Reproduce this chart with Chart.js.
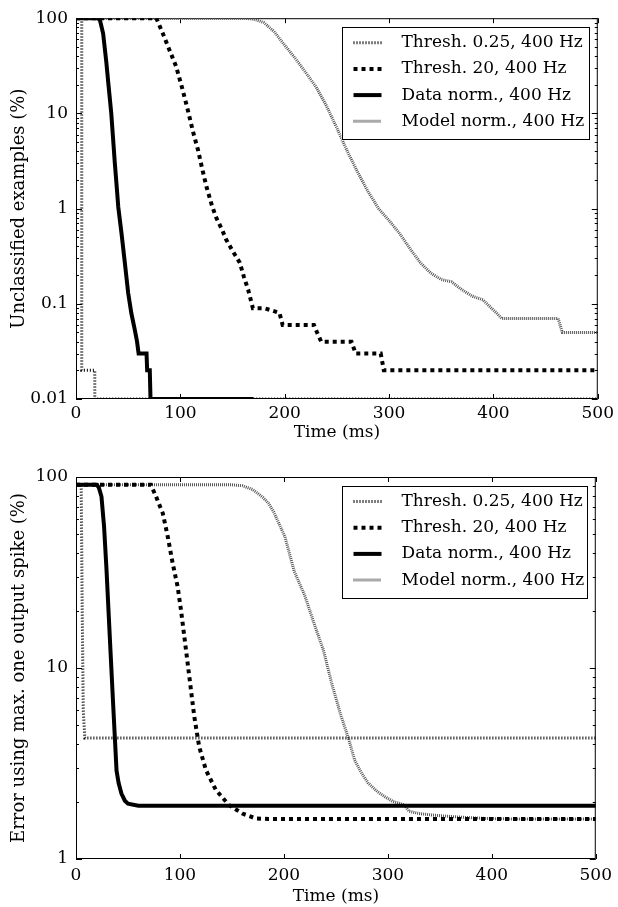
<!DOCTYPE html>
<html><head><meta charset="utf-8">
<script src="https://cdn.jsdelivr.net/npm/chart.js@4.4.1/dist/chart.umd.min.js"></script>
<style>
html,body{margin:0;padding:0;background:#fff;width:618px;height:907px;overflow:hidden}
.box{position:absolute;left:0;width:618px}
canvas{display:block}
</style></head><body>
<div class="box" style="top:0;height:450px"><canvas id="c1" width="618" height="450"></canvas></div>
<div class="box" style="top:455px;height:452px"><canvas id="c2" width="618" height="452"></canvas></div>
<script>
// ---------- data ----------
const seriesLabels = ['Thresh. 0.25, 400 Hz', 'Thresh. 20, 400 Hz', 'Data norm., 400 Hz', 'Model norm., 400 Hz'];
const xTicks = [0, 100, 200, 300, 400, 500];
const xTickLabels = ['0', '100', '200', '300', '400', '500'];

// Top panel: unclassified examples (%)
const topYTicks = [0.01, 0.1, 1, 10, 100];
const topYTickLabels = ['0.01', '0.1', '1', '10', '100'];
const topTh025T = [0, 5.5, 5.5, 18, 18, 500];
const topTh025V = [100, 100, 0.02, 0.02, 0.01, 0.01];
const topTh20T = [0, 77, 83, 90, 96, 102, 107, 112, 117, 121, 125, 130, 134, 140, 144, 150, 157, 161, 165, 169.5, 180, 188, 195, 198, 228, 231, 235, 264, 268, 292, 295, 500];
const topTh20V = [100, 100, 70, 45, 31, 18, 11, 6.5, 4.1, 2.6, 1.7, 1.1, 0.82, 0.6, 0.47, 0.36, 0.27, 0.19, 0.14, 0.09, 0.09, 0.085, 0.08, 0.06, 0.06, 0.05, 0.04, 0.04, 0.03, 0.03, 0.02, 0.02];
const topDataT = [0, 21, 23, 26, 29, 31, 33.8, 35.5, 37.2, 39, 40.5, 43.6, 46.8, 50, 53, 56.4, 58.5, 60, 67.6, 68.2, 70.7, 71.4, 170];
const topDataV = [100, 100, 95, 69, 35, 20.6, 10, 5.5, 3.0, 1.7, 1.04, 0.55, 0.27, 0.13, 0.08, 0.053, 0.04, 0.03, 0.03, 0.02, 0.02, 0.01, 0.01];
const topModelT = [0, 160, 170, 180, 190, 200, 210, 220, 230, 240, 250, 260, 270, 280, 290, 300, 310, 320, 330, 340, 350, 360, 370, 380, 390, 398, 403, 408, 462, 466, 500];
const topModelV = [100, 100, 98, 90, 72, 52, 38, 27, 19, 12, 7, 4, 2.4, 1.5, 1.0, 0.75, 0.55, 0.38, 0.27, 0.21, 0.18, 0.17, 0.14, 0.12, 0.11, 0.09, 0.08, 0.07, 0.07, 0.05, 0.05];

// Bottom panel: error using max. one output spike (%)
const botYTicks = [1, 10, 100];
const botYTickLabels = ['1', '10', '100'];
const botTh025T = [0, 5, 6, 7, 8.5, 500];
const botTh025V = [91, 91, 20, 6, 4.3, 4.3];
const botTh20T = [0, 72, 77, 83.5, 88.3, 93, 97.8, 101, 104.2, 107.4, 110.6, 113.8, 118.5, 125, 134.5, 147, 160, 173, 185, 500];
const botTh20V = [91, 91, 79, 64.5, 48.6, 35.3, 26.6, 20.1, 14.6, 10.6, 7.67, 5.56, 3.87, 2.92, 2.3, 1.92, 1.73, 1.63, 1.62, 1.62];
const botDataT = [0, 20, 22, 24.5, 27, 29.3, 32.5, 35.7, 37.3, 39, 41, 43.7, 47, 50, 60, 500];
const botDataV = [91, 91, 88, 79, 55, 33, 14.6, 6.5, 4.4, 2.9, 2.5, 2.2, 2.02, 1.95, 1.9, 1.9];
const botModelT = [0, 150, 160, 170, 180, 185, 190, 201, 210, 220, 230, 238, 246, 255, 262, 268, 275, 281, 290, 297, 305, 316, 320, 330, 342, 360, 375, 395, 420, 500];
const botModelV = [91, 91, 90, 86, 78, 73, 66, 48.6, 32, 24, 16.5, 12.4, 8.3, 5.6, 4.3, 3.3, 2.8, 2.5, 2.25, 2.12, 2.0, 1.92, 1.78, 1.73, 1.70, 1.67, 1.65, 1.63, 1.62, 1.62];

// ---------- styling ----------
const FONT = {family: '"DejaVu Serif", serif', size: 17};
const TITLE_FONT = {family: '"DejaVu Serif", serif', size: 18};
const FONT_STR = '17px "DejaVu Serif", serif';
const styles = [
  {borderColor: '#000', borderWidth: 3, borderDash: [1, 2]},
  {borderColor: '#000', borderWidth: 4, borderDash: [4, 4]},
  {borderColor: '#000', borderWidth: 4, borderDash: []},
  {borderColor: '#555', borderWidth: 3, borderDash: [1, 1]}
];

function pts(T, V) { return T.map((t, i) => ({x: t, y: V[i]})); }

const framePlugin = {
  id: 'frame',
  beforeDatasetsDraw(chart) {
    const {ctx, chartArea: a, scales: {x, y}} = chart;
    ctx.save();
    ctx.strokeStyle = '#000';
    ctx.lineWidth = 1;
    ctx.setLineDash([]);
    ctx.strokeRect(a.left + 0.5, a.top + 0.5, a.right - a.left - 1, a.bottom - a.top - 1);
    ctx.beginPath();
    for (const v of xTicks) {
      const px = Math.round(x.getPixelForValue(v)) + 0.5;
      ctx.moveTo(px, a.top); ctx.lineTo(px, a.top + 5);
      ctx.moveTo(px, a.bottom); ctx.lineTo(px, a.bottom - 5);
    }
    const lo = Math.round(Math.log10(y.min)), hi = Math.round(Math.log10(y.max));
    for (let e = lo; e <= hi; e++) {
      for (let m = 1; m < 10; m++) {
        const v = m * Math.pow(10, e);
        if (v > y.max * 1.0001) break;
        const py = Math.round(y.getPixelForValue(v)) + 0.5;
        const len = m === 1 ? 6 : 3;
        ctx.moveTo(a.left, py); ctx.lineTo(a.left + len, py);
        ctx.moveTo(a.right, py); ctx.lineTo(a.right - len, py);
      }
    }
    ctx.stroke();
    ctx.restore();
  }
};

const legendPlugin = {
  id: 'boxLegend',
  afterDraw(chart) {
    const {ctx, chartArea: a} = chart;
    const left = a.left + 265.5, right = a.right - 9, top = a.top + 8.5, h = 112;
    ctx.save();
    ctx.fillStyle = '#fff';
    ctx.fillRect(left, top, right - left, h);
    ctx.strokeStyle = '#000';
    ctx.lineWidth = 1;
    ctx.setLineDash([]);
    ctx.strokeRect(Math.round(left) + 0.5, Math.round(top) + 0.5, Math.round(right - left), h);
    chart.data.datasets.forEach((ds, i) => {
      const yy = top + 16 + 26.2 * i;
      ctx.beginPath();
      ctx.strokeStyle = ds.borderColor;
      ctx.lineWidth = ds.borderWidth;
      ctx.setLineDash(ds.borderDash || []);
      ctx.moveTo(left + 12, yy);
      ctx.lineTo(left + 40, yy);
      ctx.stroke();
      ctx.setLineDash([]);
      ctx.fillStyle = '#000';
      ctx.font = FONT_STR;
      ctx.textBaseline = 'middle';
      ctx.textAlign = 'left';
      ctx.fillText(ds.label, left + 60, yy);
    });
    ctx.restore();
  }
};

function makeChart(id, series, yMin, yMax, yTicks, yTickLabels, yTitle, padTop, xAxisH, xLabelPad, xTitlePad) {
  const datasets = series.map((s, i) => Object.assign({
    label: seriesLabels[i],
    data: pts(s[0], s[1]),
    pointRadius: 0,
    tension: 0,
    fill: false
  }, styles[i]));
  return new Chart(document.getElementById(id), {
    type: 'line',
    data: {datasets},
    plugins: [framePlugin, legendPlugin],
    options: {
      responsive: false,
      animation: false,
      events: [],
      layout: {padding: {top: padTop, right: 19, left: 0, bottom: 0}},
      plugins: {legend: {display: false}, tooltip: {enabled: false}},
      scales: {
        x: {
          type: 'linear', min: 0, max: 500, position: 'bottom',
          grid: {display: false, drawTicks: false},
          border: {display: false},
          afterBuildTicks: s => { s.ticks = xTicks.map(v => ({value: v})); },
          ticks: {font: FONT, color: '#000', padding: xLabelPad, maxRotation: 0,
                  callback: (v, i) => xTickLabels[i]},
          title: {display: true, text: 'Time (ms)', font: FONT, color: '#000', padding: {top: 0, bottom: xTitlePad}},
          afterFit: s => { s.height = xAxisH; }
        },
        y: {
          type: 'logarithmic', min: yMin, max: yMax, position: 'left',
          grid: {display: false, drawTicks: false},
          border: {display: false},
          afterBuildTicks: s => { s.ticks = yTicks.map(v => ({value: v})); },
          ticks: {font: FONT, color: '#000', padding: 8, callback: (v, i) => yTickLabels[i]},
          title: {display: true, text: yTitle, font: TITLE_FONT, color: '#000', padding: {top: 9, bottom: 0}},
          afterFit: s => { s.width = 76; }
        }
      }
    }
  });
}

makeChart('c1',
  [[topTh025T, topTh025V], [topTh20T, topTh20V], [topDataT, topDataV], [topModelT, topModelV]],
  0.01, 100, topYTicks, topYTickLabels, 'Unclassified examples (%)', 18, 51, 4, 7);
makeChart('c2',
  [[botTh025T, botTh025V], [botTh20T, botTh20V], [botDataT, botDataV], [botModelT, botModelV]],
  1, 100, botYTicks, botYTickLabels, 'Error using max. one output spike (%)', 22, 48, 6, 0);
</script>
</body></html>
